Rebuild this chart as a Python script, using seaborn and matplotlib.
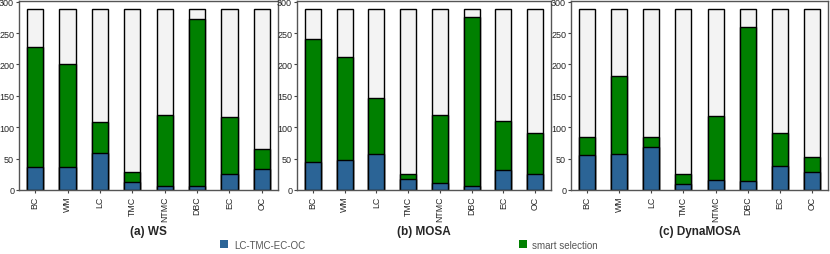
import numpy as np
import pandas as pd
import matplotlib
matplotlib.use("Agg")
import matplotlib.pyplot as plt
import seaborn as sns
from matplotlib.patches import Patch

# criteria on the x axis
criteria = ['BC', 'WM', 'LC', 'TMC', 'NTMC', 'DBC', 'EC', 'OC']
total = 289

# blue part (LC-TMC-EC-OC)
ws_base = [37, 36, 59, 12, 7, 6, 25, 33]
mosa_base = [45, 47, 58, 18, 11, 7, 32, 26]
dyna_base = [55, 58, 69, 10, 16, 15, 39, 29]

# top of the green part (cumulative, smart selection)
ws_top = [228, 201, 108, 28, 119, 273, 117, 66]
mosa_top = [241, 212, 146, 26, 119, 276, 110, 90]
dyna_top = [84, 181, 85, 25, 118, 260, 90, 53]

titles = ['(a) WS', '(b) MOSA', '(c) DynaMOSA']
legend_labels = ['LC-TMC-EC-OC', 'smart selection']

c_blue = '#2b6496'
c_green = '#008000'
c_grey = '#f3f3f3'

sns.set_style("white")
plt.rcParams['font.family'] = ['Liberation Sans', 'DejaVu Sans']

fig = plt.figure(figsize=(8.3, 2.55), dpi=100)
W, H = 830, 255
lefts = [19, 297, 571]
rights = [278, 551, 828]
axes = [fig.add_axes([l / W, (H - 191) / H, (r - l) / W, 189 / H]) for l, r in zip(lefts, rights)]

for ax, base, top, title in zip(axes,
                                [ws_base, mosa_base, dyna_base],
                                [ws_top, mosa_top, dyna_top],
                                titles):
    df = pd.DataFrame({'crit': criteria, 'base': base, 'top': top, 'total': total})
    kw = dict(x='crit', ax=ax, width=0.5, edgecolor='black', linewidth=1.0, order=criteria)
    sns.barplot(data=df, y='total', color=c_grey, saturation=1, **kw)
    sns.barplot(data=df, y='top', color=c_green, saturation=1, **kw)
    sns.barplot(data=df, y='base', color=c_blue, saturation=1, **kw)
    ax.set_ylim(0, 301)
    ax.set_xlim(-0.5, 7.5)
    ax.set_yticks([0, 50, 100, 150, 200, 250, 300])
    ax.tick_params(axis='y', labelsize=6.5, length=2, pad=1.5, left=True, color='#444444')
    ax.tick_params(axis='x', labelsize=6.3, length=2, pad=2, rotation=90, bottom=True, color='#444444')
    ax.set_ylabel('')
    ax.set_xlabel(title, fontsize=8.5, fontweight='bold', labelpad=3)
    for s in ax.spines.values():
        s.set_color('#555555')
        s.set_linewidth(1.0)

handles = [Patch(facecolor=c_blue, edgecolor='none'), Patch(facecolor=c_green, edgecolor='none')]
leg = fig.legend(handles, legend_labels, loc='center', bbox_to_anchor=(0.493, 0.037), ncol=2,
                 frameon=False, fontsize=7, handlelength=0.8, handleheight=0.8,
                 handletextpad=0.6, columnspacing=22)
for t in leg.get_texts():
    t.set_color('#555555')

fig.savefig('out.png', dpi=100)
